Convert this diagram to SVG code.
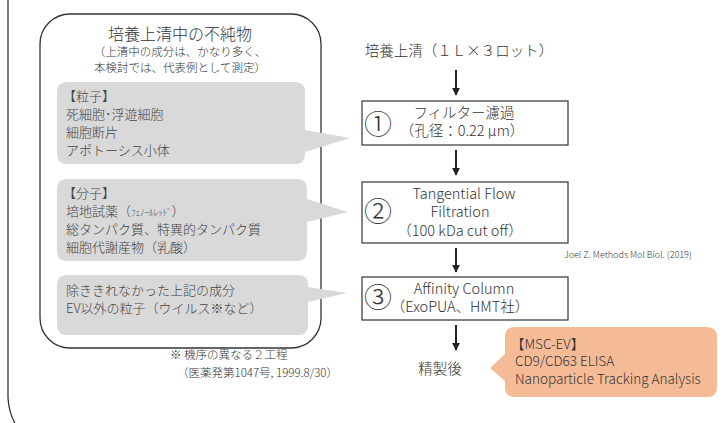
<svg xmlns="http://www.w3.org/2000/svg" width="725" height="423" viewBox="0 0 725 423">
<style>
text{font-family:"Noto Sans CJK JP","Noto Sans",sans-serif;fill:#333;font-weight:300}
.g{fill:#d9d9d9}
.gt{font-size:13px;fill:#444}
.box{fill:#fff;stroke:#333;stroke-width:1.2}
.ct{font-size:14.5px;text-anchor:middle}
.num{font-size:28px;text-anchor:middle}
.fr{fill:none;stroke:#333;stroke-width:1.3}
</style>
<defs>
<marker id="ah" viewBox="0 0 10 10" refX="9" refY="5" markerWidth="4" markerHeight="4" orient="auto"><path d="M0,0 L10,5 L0,10 Z" fill="#222"/></marker>
</defs>
<path class="fr" d="M8,-5 V398 Q9,414 16,425"/>
<g id="impurities">
<rect class="fr" x="40" y="14" width="281" height="334" rx="30"/>
<text x="180" y="40" font-size="16" text-anchor="middle">培養上清中の不純物</text>
<text x="180" y="56" font-size="11.5" text-anchor="middle">（上清中の成分は、かなり多く、</text>
<text x="180" y="72" font-size="11.5" text-anchor="middle">本検討では、代表例として測定）</text>
</g>
<g id="particles">
<path class="g" d="M67,82 H295 Q305,82 305,92 V130 L350,138 L305,152 V154 Q305,164 295,164 H67 Q57,164 57,154 V92 Q57,82 67,82 Z"/>
<text class="gt" x="63" y="101">【粒子】</text>
<text class="gt" x="66" y="119">死細胞･浮遊細胞</text>
<text class="gt" x="66" y="137">細胞断片</text>
<text class="gt" x="66" y="155">アポトーシス小体</text>
</g>
<g id="molecules">
<path class="g" d="M67,179 H297 Q307,179 307,189 V199 L348,212 L307,222 V251 Q307,261 297,261 H67 Q57,261 57,251 V189 Q57,179 67,179 Z"/>
<text class="gt" x="63" y="198">【分子】</text>
<text class="gt" x="66" y="216">培地試薬（<tspan font-size="9">ﾌｪﾉｰﾙﾚｯﾄﾞ</tspan>）</text>
<text class="gt" x="66" y="234">総タンパク質、特異的タンパク質</text>
<text class="gt" x="66" y="252">細胞代謝産物（乳酸）</text>
</g>
<g id="residual">
<path class="g" d="M67,275 H298 Q308,275 308,285 V287 L347,293 L308,302 V325 Q308,335 298,335 H67 Q57,335 57,325 V285 Q57,275 67,275 Z"/>
<text class="gt" x="66" y="295">除ききれなかった上記の成分</text>
<text class="gt" x="66" y="313">EV以外の粒子（ウイルス※など）</text>
</g>
<g id="footnote">
<text x="170" y="359" font-size="11.5">※ 機序の異なる２工程</text>
<text x="177" y="377" font-size="11.5">（医薬発第1047号, 1999.8/30）</text>
</g>
<g id="supernatant">
<text class="ct" x="459" y="56" font-size="14.6">培養上清（１Ｌ×３ロット）</text>
</g>
<g id="step1">
<rect class="box" x="362" y="101" width="206" height="44"/>
<text class="num" x="378" y="135">①</text>
<text class="ct" x="464" y="118">フィルター濾過</text>
<text class="ct" x="462" y="136">（孔径：0.22 µm）</text>
</g>
<g id="step2">
<rect class="box" x="362" y="182" width="206" height="61"/>
<text class="num" x="378" y="222">②</text>
<text class="ct" x="464" y="199" font-size="15">Tangential Flow</text>
<text class="ct" x="460" y="217" font-size="15">Filtration</text>
<text class="ct" x="460" y="236" font-size="15">（100 kDa cut off）</text>
</g>
<g id="step3">
<rect class="box" x="362" y="277" width="206" height="43"/>
<text class="num" x="378" y="308">③</text>
<text class="ct" x="464" y="294" font-size="15">Affinity Column</text>
<text class="ct" x="460" y="312" font-size="15">（ExoPUA、HMT社）</text>
</g>
<g id="purified">
<text class="ct" x="440" y="374" font-size="15">精製後</text>
</g>
<g id="analysis">
<path d="M515,327 H707 Q717,327 717,337 V387 Q717,397 707,397 H515 Q505,397 505,387 V381 L490,368 L505,354 V337 Q505,327 515,327 Z" fill="#f5bb96"/>
<text x="511" y="349" font-size="13.5">【MSC-EV】</text>
<text x="515" y="366" font-size="13.5">CD9/CD63 ELISA</text>
<text x="515" y="384" font-size="13.5">Nanoparticle Tracking Analysis</text>
</g>
<g id="ref">
<text x="564" y="258" font-size="9" fill="#555">Joel Z. Methods Mol Biol. (2019)</text>
</g>
<g id="connectors" stroke="#222" stroke-width="2" marker-end="url(#ah)">
<line x1="456" y1="70" x2="456" y2="95"/>
<line x1="456" y1="150" x2="456" y2="175"/>
<line x1="456" y1="248" x2="456" y2="272"/>
<line x1="456" y1="325" x2="456" y2="350"/>
</g>
</svg>
